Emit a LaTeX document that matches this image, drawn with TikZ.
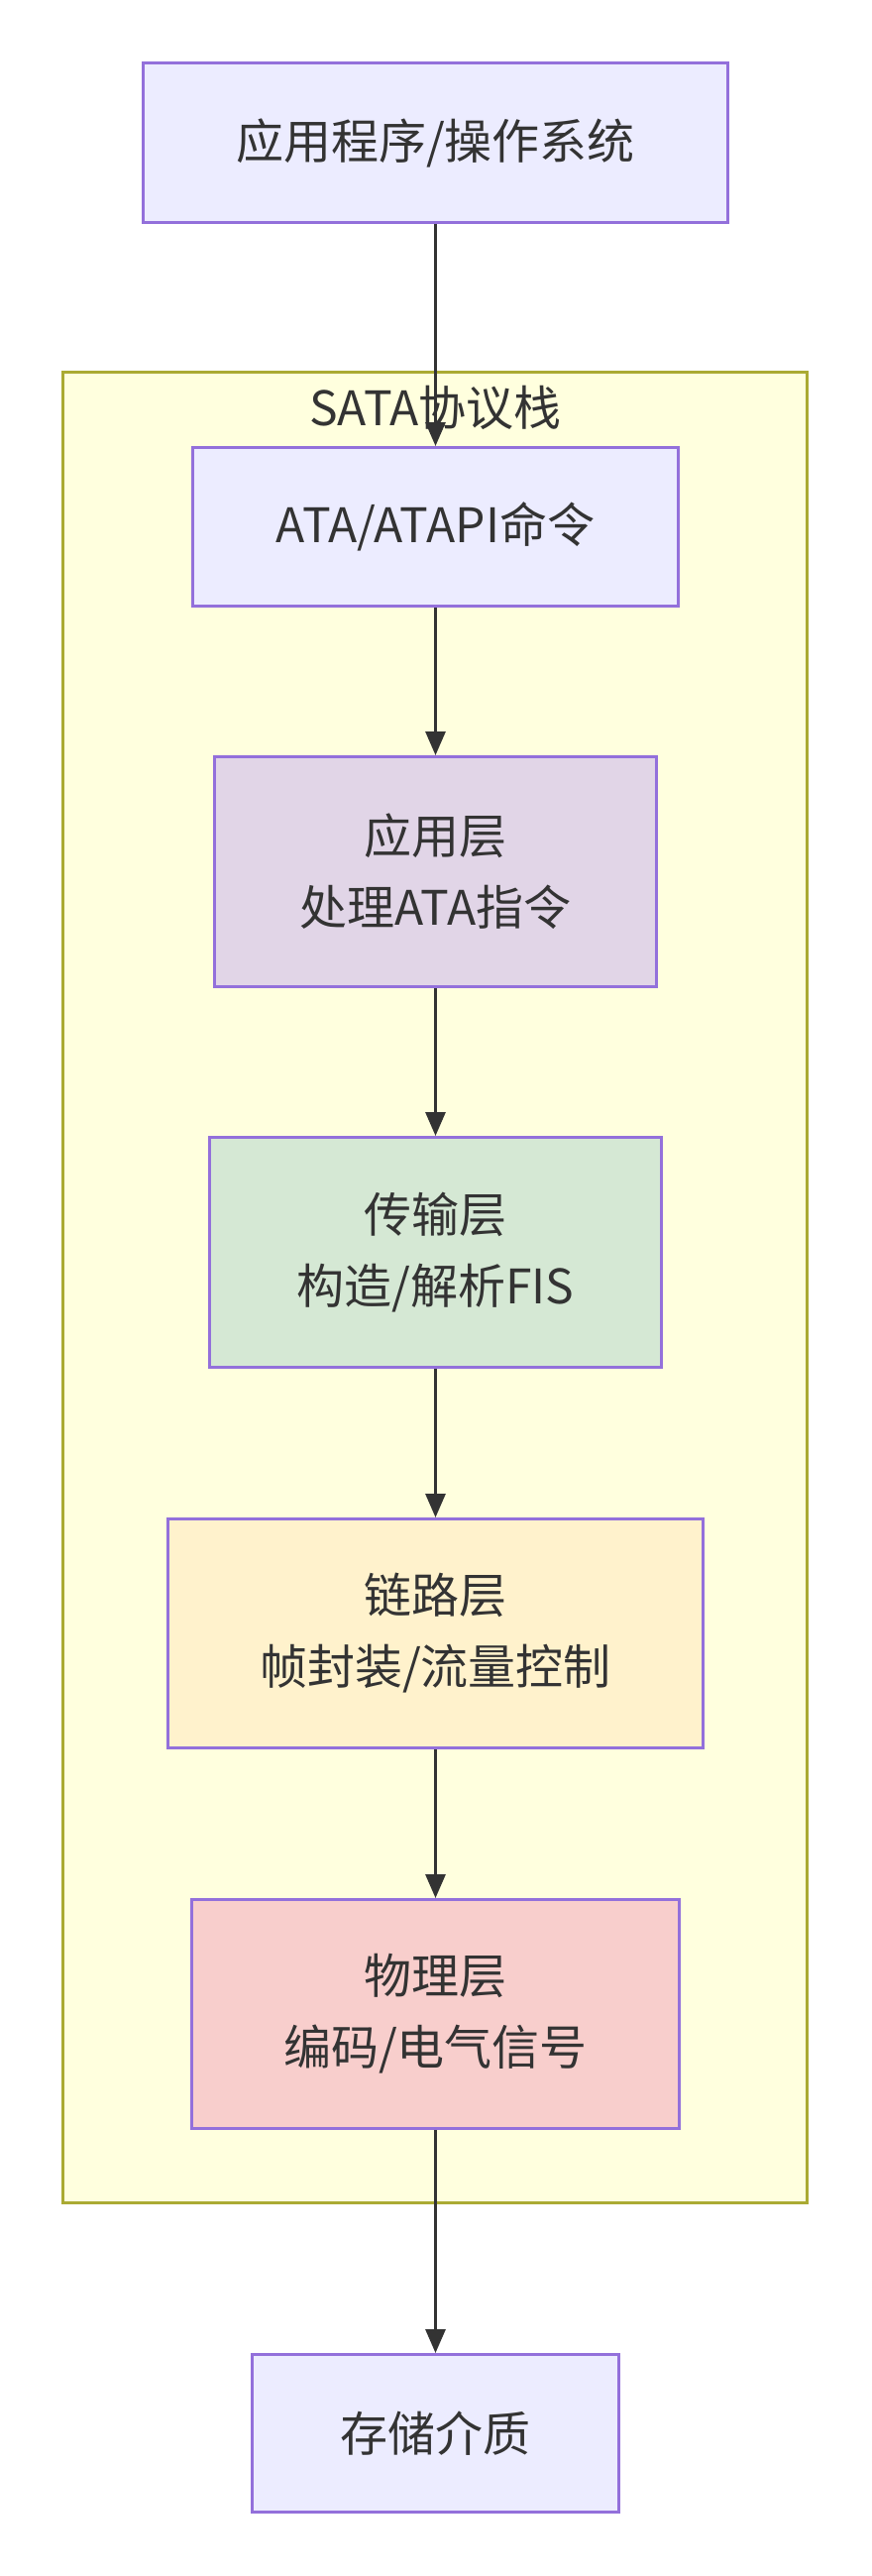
\documentclass[tikz,border=0pt]{standalone}
\usepackage{fontspec}
\setmainfont{Noto Sans CJK SC}
\usetikzlibrary{arrows.meta}
\definecolor{txt}{HTML}{333333}
\definecolor{nodeborder}{HTML}{9370DB}
\definecolor{defaultfill}{HTML}{ECECFF}
\definecolor{clusterfill}{HTML}{FFFFDE}
\definecolor{clusterborder}{HTML}{AAAA33}
\definecolor{appfill}{HTML}{E1D5E7}
\definecolor{transfill}{HTML}{D5E8D4}
\definecolor{linkfill}{HTML}{FFF2CC}
\definecolor{physfill}{HTML}{F8CECC}
\begin{document}
\begin{tikzpicture}[x=1pt,y=-1pt]
\tikzset{
  box/.style={draw=nodeborder, line width=3pt, fill=#1, text=txt,
    font=\fontsize{48}{72}\selectfont, align=center, inner sep=0pt},
  flow/.style={draw=txt, line width=3pt, -{Triangle[length=24pt,width=20pt]}}
}
\useasboundingbox (0,0) rectangle (879,2599);
\fill[white] (0,0) rectangle (879,2599);
% cluster
\draw[draw=clusterborder, fill=clusterfill, line width=3pt] (63.5,375.5) rectangle (814.5,2222.5);
\node[text=txt, font=\fontsize{48}{58}\selectfont, inner sep=0pt] (ctitle) at (439.5,411) {SATA协议栈};
% nodes
\node[box=defaultfill, minimum width=590pt, minimum height=161pt] (b1) at (439.5,144) {应用程序/操作系统};
\node[box=defaultfill, minimum width=490pt, minimum height=160pt] (ata) at (439.5,531.5) {ATA/ATAPI命令};
\node[box=appfill, minimum width=446pt, minimum height=232pt] (app) at (439.5,879.5) {应用层\\处理ATA指令};
\node[box=transfill, minimum width=456pt, minimum height=232pt] (trans) at (439.5,1263.5) {传输层\\构造/解析FIS};
\node[box=linkfill, minimum width=540pt, minimum height=231pt] (link) at (439.5,1648) {链路层\\帧封装/流量控制};
\node[box=physfill, minimum width=492pt, minimum height=231pt] (phys) at (439.5,2032) {物理层\\编码/电气信号};
\node[box=defaultfill, minimum width=370pt, minimum height=159pt] (store) at (439.5,2455) {存储介质};
% edges
\draw[flow] (b1) -- (ata);
\draw[flow] (ata) -- (app);
\draw[flow] (app) -- (trans);
\draw[flow] (trans) -- (link);
\draw[flow] (link) -- (phys);
\draw[flow] (phys) -- (store);
\end{tikzpicture}
\end{document}
